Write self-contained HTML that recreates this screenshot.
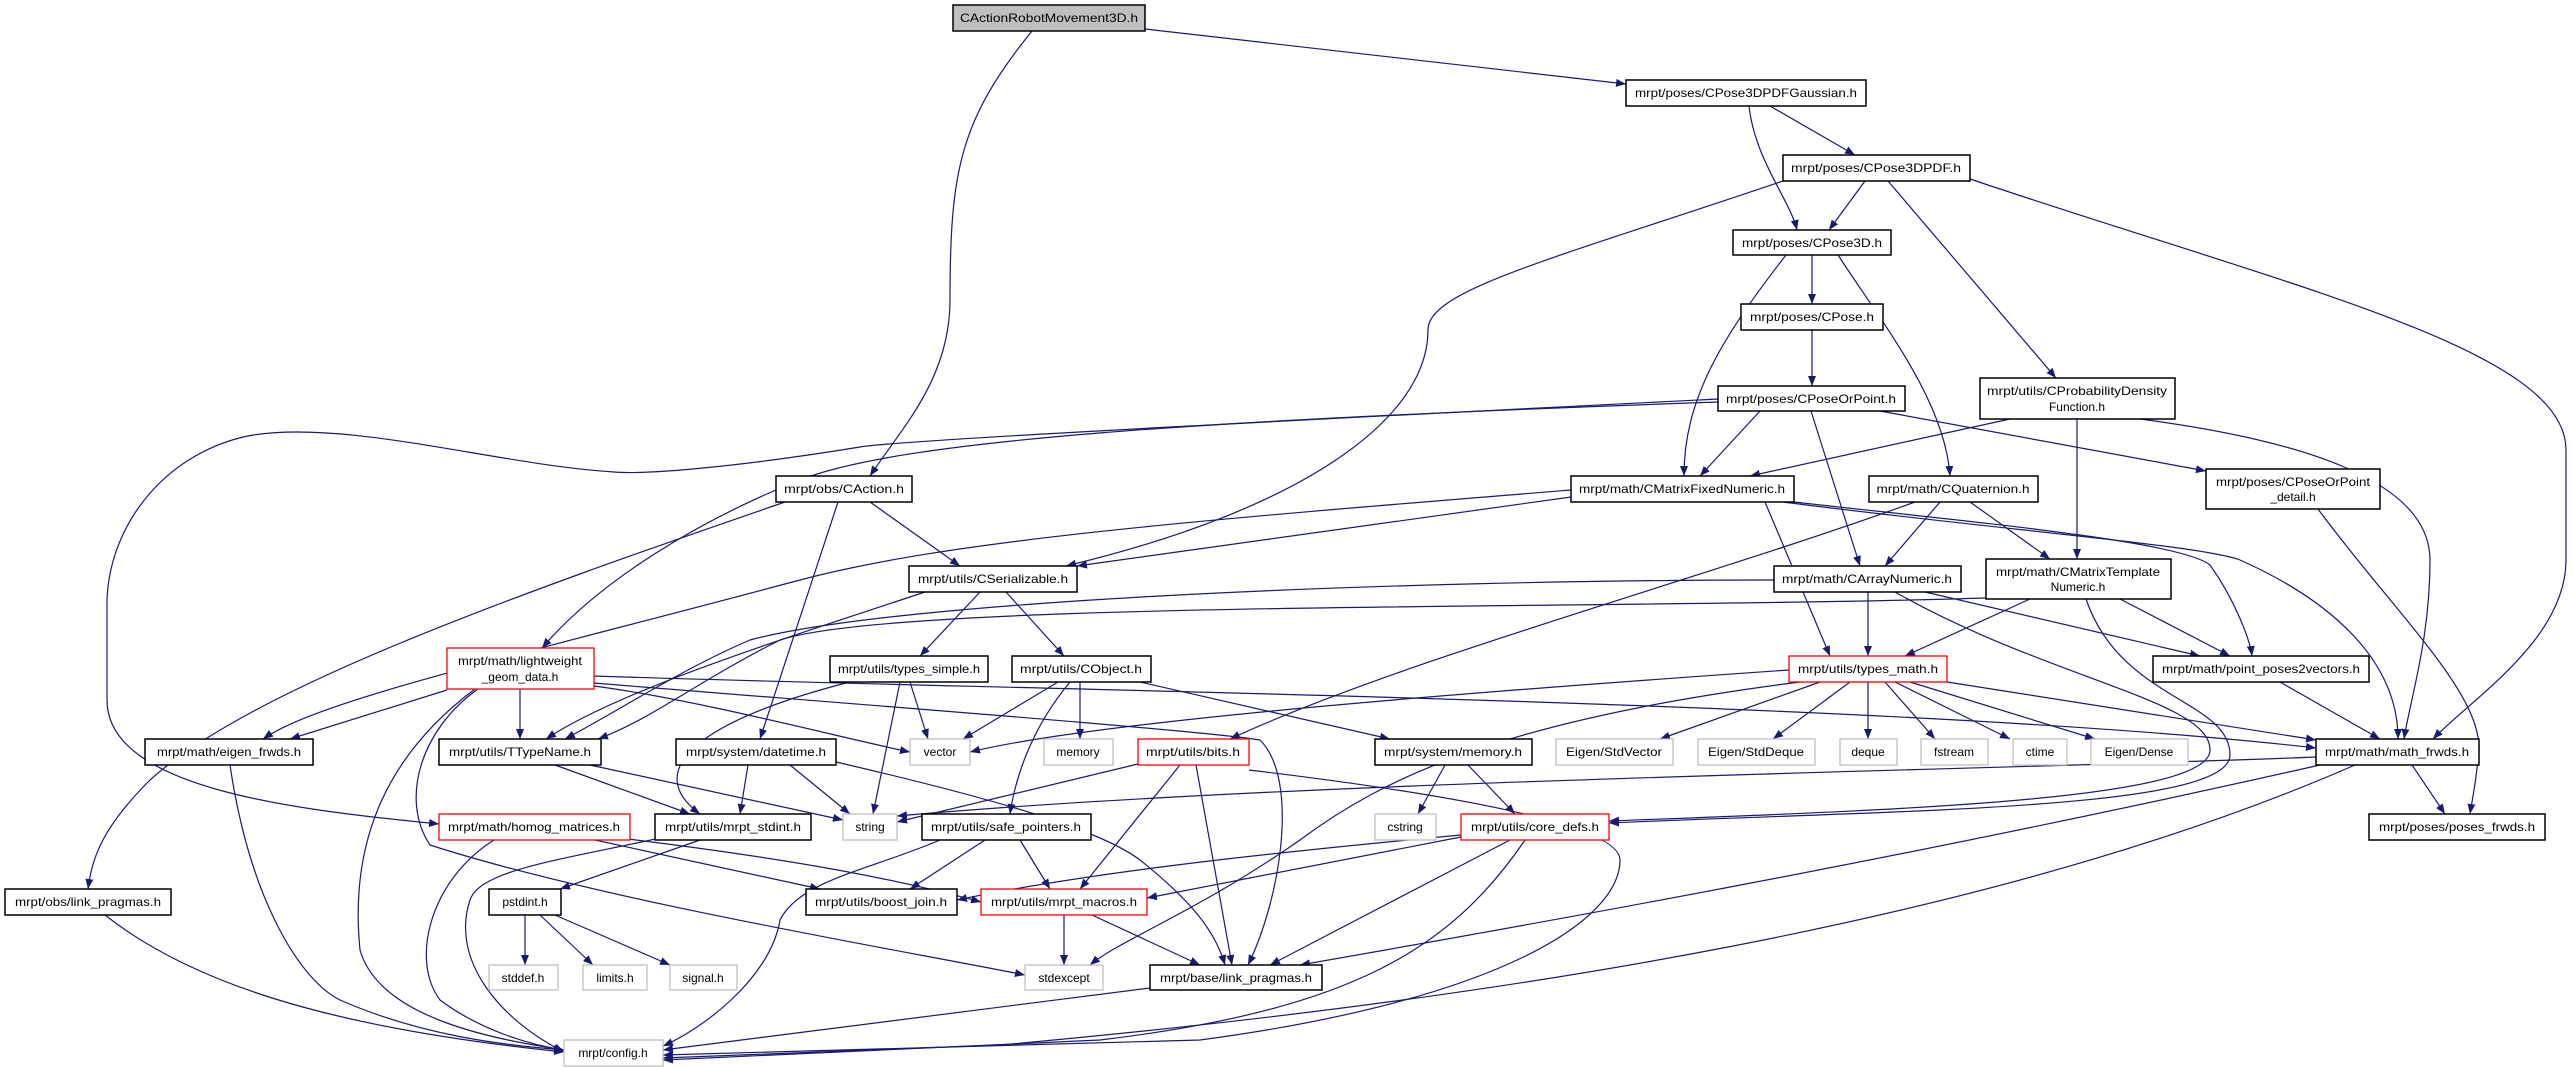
<!DOCTYPE html>
<html><head><meta charset="utf-8"><style>
html,body{margin:0;padding:0;background:#fff;}
svg{display:block;}
text{font-family:"Liberation Sans",sans-serif;font-size:12px;fill:#000;}
.e{fill:none;stroke:#191970;stroke-width:1.2;marker-end:url(#ah);}
.n{fill:#fff;stroke:#000;stroke-width:1.5;}
.g{fill:#fff;stroke:#bfbfbf;stroke-width:1.3;}
.r{fill:#fff;stroke:#ff0000;stroke-width:1.3;}
</style></head><body>
<svg width="2573" height="1067" viewBox="0 0 2573 1067" xmlns="http://www.w3.org/2000/svg">
<defs><marker id="ah" markerUnits="userSpaceOnUse" markerWidth="11" markerHeight="8" refX="10" refY="4" orient="auto"><path d="M0,0 L10,4 L0,8 z" fill="#191970"/></marker></defs>
<g>
<path class="e" d="M1145,29 L1626,84"/>
<path class="e" d="M1032,31 C960,120 950,170 950,300 C950,380 900,430 870,476"/>
<path class="e" d="M1770,106 L1855,155"/>
<path class="e" d="M1749,106 C1755,160 1790,200 1797,230"/>
<path class="e" d="M1865,181 L1829,230"/>
<path class="e" d="M1783,181 C1550,260 1428,290 1428,330 C1428,420 1300,510 1066,566"/>
<path class="e" d="M1888,181 L2056,378"/>
<path class="e" d="M1970,179 C2300,290 2566,350 2566,450 L2566,560 C2566,640 2470,700 2433,739"/>
<path class="e" d="M1812,255 L1812,304"/>
<path class="e" d="M1786,255 C1720,340 1684,400 1684,476"/>
<path class="e" d="M1838,255 C1880,320 1945,400 1950,476"/>
<path class="e" d="M1812,330 L1812,386"/>
<path class="e" d="M1718,399 C1300,420 900,440 860,447 C750,465 650,475 614,472 C500,465 350,420 253,435 C170,450 110,520 107,600 L107,700 C107,790 300,810 439,824"/>
<path class="e" d="M1718,402 C1200,420 900,440 800,480 C700,520 600,580 542,648"/>
<path class="e" d="M1760,411 L1700,476"/>
<path class="e" d="M1811,411 L1860,566"/>
<path class="e" d="M1880,411 L2206,471"/>
<path class="e" d="M2010,419 L1750,476"/>
<path class="e" d="M2077,419 L2077,559"/>
<path class="e" d="M2140,419 C2300,440 2430,480 2430,560 C2430,640 2410,700 2404,739"/>
<path class="e" d="M785,502 C500,600 250,690 150,780 C100,830 92,860 88,889"/>
<path class="e" d="M870,502 L960,566"/>
<path class="e" d="M838,502 L760,739"/>
<path class="e" d="M1571,497 L1077,566"/>
<path class="e" d="M1571,490 C1200,520 950,540 800,580 C500,660 320,700 263,739"/>
<path class="e" d="M1765,502 L1830,656"/>
<path class="e" d="M1783,502 C2000,530 2200,545 2240,560 C2330,600 2398,660 2398,739"/>
<path class="e" d="M1785,501 C1950,520 2180,540 2210,565 C2235,600 2250,640 2252,656"/>
<path class="e" d="M1940,502 L1885,566"/>
<path class="e" d="M1970,502 L2050,559"/>
<path class="e" d="M1915,502 C1700,580 1400,660 1230,739"/>
<path class="e" d="M925,592 C780,640 620,690 546,739"/>
<path class="e" d="M980,592 L920,656"/>
<path class="e" d="M1006,592 L1064,656"/>
<path class="e" d="M1868,592 L1868,656"/>
<path class="e" d="M1774,580 C1400,580 900,600 750,640 C680,670 620,710 565,739"/>
<path class="e" d="M1986,598 C1600,610 900,600 780,640 C700,680 650,720 598,739"/>
<path class="e" d="M1925,592 L2200,656"/>
<path class="e" d="M1895,592 C2050,680 2210,700 2210,750 C2210,800 1900,810 1609,821"/>
<path class="e" d="M2086,599 C2120,700 2230,700 2230,755 C2230,810 1900,810 1609,823"/>
<path class="e" d="M2030,599 L1905,656"/>
<path class="e" d="M2120,599 L2230,656"/>
<path class="e" d="M2318,509 C2400,620 2490,700 2478,760 C2475,790 2472,800 2470,814"/>
<path class="e" d="M447,690 L290,739"/>
<path class="e" d="M520,689 L520,739"/>
<path class="e" d="M594,686 C700,700 850,740 910,752"/>
<path class="e" d="M594,676 C1000,690 1900,700 2316,748"/>
<path class="e" d="M475,689 C380,760 350,850 360,950 C380,1020 500,1040 564,1050"/>
<path class="e" d="M478,689 C420,730 400,800 430,845 C600,900 900,950 1025,975"/>
<path class="e" d="M594,683 C800,700 1200,730 1260,740 C1300,780 1280,900 1248,965"/>
<path class="e" d="M910,682 L928,739"/>
<path class="e" d="M900,682 L873,814"/>
<path class="e" d="M850,682 C700,720 640,770 700,814"/>
<path class="e" d="M1058,682 L963,739"/>
<path class="e" d="M1080,682 L1080,739"/>
<path class="e" d="M1070,682 C1030,730 1015,780 1010,814"/>
<path class="e" d="M1140,682 L1390,739"/>
<path class="e" d="M1789,670 C1500,690 1100,720 970,752"/>
<path class="e" d="M1820,682 L1660,739"/>
<path class="e" d="M1850,682 L1773,739"/>
<path class="e" d="M1868,682 L1868,739"/>
<path class="e" d="M1885,682 L1935,739"/>
<path class="e" d="M1895,682 L2010,739"/>
<path class="e" d="M1910,682 L2095,739"/>
<path class="e" d="M1947,682 L2316,740"/>
<path class="e" d="M1800,682 C1500,720 1380,780 1300,840 C1200,910 1120,940 1090,965"/>
<path class="e" d="M2316,757 C2000,770 1300,780 897,816"/>
<path class="e" d="M2280,682 L2380,739"/>
<path class="e" d="M748,765 L740,814"/>
<path class="e" d="M790,765 L850,814"/>
<path class="e" d="M836,762 C1000,800 1100,830 1140,860 C1190,900 1215,930 1225,965"/>
<path class="e" d="M555,765 L690,814"/>
<path class="e" d="M590,765 L843,820"/>
<path class="e" d="M1138,764 L897,822"/>
<path class="e" d="M1180,765 L1080,889"/>
<path class="e" d="M1196,765 L1232,965"/>
<path class="e" d="M1249,770 C1500,800 1620,830 1620,860 C1620,920 1500,1000 1200,1040 L663,1055"/>
<path class="e" d="M1445,765 L1418,814"/>
<path class="e" d="M1468,765 L1515,814"/>
<path class="e" d="M2412,765 L2445,814"/>
<path class="e" d="M2320,765 C1900,860 1500,930 1300,965"/>
<path class="e" d="M2355,765 C2000,920 1500,1000 1000,1045 L663,1058"/>
<path class="e" d="M494,840 C430,880 410,960 440,1000 C480,1030 530,1045 564,1050"/>
<path class="e" d="M595,840 L820,889"/>
<path class="e" d="M620,838 C800,860 900,880 981,902"/>
<path class="e" d="M700,840 L560,889"/>
<path class="e" d="M660,838 C560,860 480,870 470,900 C450,960 500,1020 564,1052"/>
<path class="e" d="M985,840 L910,889"/>
<path class="e" d="M1020,840 L1050,889"/>
<path class="e" d="M940,840 C870,870 800,880 780,920 C770,980 700,1030 663,1046"/>
<path class="e" d="M1461,837 L1147,898"/>
<path class="e" d="M1461,835 C1300,850 1100,870 957,900"/>
<path class="e" d="M1510,840 L1270,965"/>
<path class="e" d="M1525,840 C1450,950 1350,1010 1100,1040 L663,1060"/>
<path class="e" d="M525,915 L525,965"/>
<path class="e" d="M540,915 L593,965"/>
<path class="e" d="M555,915 L670,965"/>
<path class="e" d="M1064,915 L1064,965"/>
<path class="e" d="M1092,915 L1200,965"/>
<path class="e" d="M1150,988 L663,1050"/>
<path class="e" d="M105,915 C200,990 350,1030 564,1052"/>
<path class="e" d="M230,765 C250,900 300,980 340,1000 C420,1035 500,1045 564,1050"/>
</g>
<g>
<rect x="953" y="5" width="192" height="26" fill="#bfbfbf" stroke="#000" stroke-width="1.5"/><text x="1049" y="22" text-anchor="middle" textLength="178" lengthAdjust="spacingAndGlyphs">CActionRobotMovement3D.h</text>
<rect class="n" x="1626" y="80" width="240" height="26"/><text x="1746" y="97" text-anchor="middle" textLength="222" lengthAdjust="spacingAndGlyphs">mrpt/poses/CPose3DPDFGaussian.h</text>
<rect class="n" x="1783" y="155" width="187" height="26"/><text x="1876" y="172" text-anchor="middle" textLength="170" lengthAdjust="spacingAndGlyphs">mrpt/poses/CPose3DPDF.h</text>
<rect class="n" x="1733" y="230" width="158" height="25"/><text x="1812" y="247" text-anchor="middle" textLength="140" lengthAdjust="spacingAndGlyphs">mrpt/poses/CPose3D.h</text>
<rect class="n" x="1741" y="304" width="142" height="26"/><text x="1812" y="321" text-anchor="middle" textLength="124" lengthAdjust="spacingAndGlyphs">mrpt/poses/CPose.h</text>
<rect class="n" x="1718" y="386" width="187" height="25"/><text x="1811" y="403" text-anchor="middle" textLength="170" lengthAdjust="spacingAndGlyphs">mrpt/poses/CPoseOrPoint.h</text>
<rect class="n" x="1980" y="378" width="195" height="41"/><text x="2077" y="395" text-anchor="middle" textLength="180" lengthAdjust="spacingAndGlyphs">mrpt/utils/CProbabilityDensity</text><text x="2077" y="411" text-anchor="middle">Function.h</text>
<rect class="n" x="776" y="476" width="136" height="26"/><text x="844" y="493" text-anchor="middle" textLength="120" lengthAdjust="spacingAndGlyphs">mrpt/obs/CAction.h</text>
<rect class="n" x="1571" y="476" width="223" height="26"/><text x="1682" y="493" text-anchor="middle" textLength="206" lengthAdjust="spacingAndGlyphs">mrpt/math/CMatrixFixedNumeric.h</text>
<rect class="n" x="1869" y="476" width="169" height="26"/><text x="1953" y="493" text-anchor="middle" textLength="153" lengthAdjust="spacingAndGlyphs">mrpt/math/CQuaternion.h</text>
<rect class="n" x="2206" y="469" width="174" height="40"/><text x="2293" y="486" text-anchor="middle" textLength="154" lengthAdjust="spacingAndGlyphs">mrpt/poses/CPoseOrPoint</text><text x="2293" y="501" text-anchor="middle">_detail.h</text>
<rect class="n" x="909" y="566" width="168" height="26"/><text x="993" y="583" text-anchor="middle" textLength="150" lengthAdjust="spacingAndGlyphs">mrpt/utils/CSerializable.h</text>
<rect class="n" x="1774" y="566" width="187" height="26"/><text x="1867" y="583" text-anchor="middle" textLength="170" lengthAdjust="spacingAndGlyphs">mrpt/math/CArrayNumeric.h</text>
<rect class="n" x="1986" y="559" width="185" height="40"/><text x="2078" y="576" text-anchor="middle" textLength="164" lengthAdjust="spacingAndGlyphs">mrpt/math/CMatrixTemplate</text><text x="2078" y="591" text-anchor="middle">Numeric.h</text>
<rect class="r" x="447" y="648" width="147" height="41"/><text x="520" y="665" text-anchor="middle" textLength="124" lengthAdjust="spacingAndGlyphs">mrpt/math/lightweight</text><text x="520" y="681" text-anchor="middle">_geom_data.h</text>
<rect class="n" x="830" y="656" width="158" height="26"/><text x="909" y="673" text-anchor="middle" textLength="142" lengthAdjust="spacingAndGlyphs">mrpt/utils/types_simple.h</text>
<rect class="n" x="1012" y="656" width="139" height="26"/><text x="1081" y="673" text-anchor="middle" textLength="122" lengthAdjust="spacingAndGlyphs">mrpt/utils/CObject.h</text>
<rect class="r" x="1789" y="656" width="158" height="26"/><text x="1868" y="673" text-anchor="middle" textLength="140" lengthAdjust="spacingAndGlyphs">mrpt/utils/types_math.h</text>
<rect class="n" x="2153" y="656" width="216" height="26"/><text x="2261" y="673" text-anchor="middle" textLength="198" lengthAdjust="spacingAndGlyphs">mrpt/math/point_poses2vectors.h</text>
<rect class="n" x="145" y="739" width="168" height="26"/><text x="229" y="756" text-anchor="middle" textLength="144" lengthAdjust="spacingAndGlyphs">mrpt/math/eigen_frwds.h</text>
<rect class="n" x="439" y="739" width="162" height="26"/><text x="520" y="756" text-anchor="middle" textLength="142" lengthAdjust="spacingAndGlyphs">mrpt/utils/TTypeName.h</text>
<rect class="n" x="676" y="739" width="160" height="26"/><text x="756" y="756" text-anchor="middle" textLength="140" lengthAdjust="spacingAndGlyphs">mrpt/system/datetime.h</text>
<rect class="g" x="910" y="739" width="60" height="26"/><text x="940" y="756" text-anchor="middle">vector</text>
<rect class="g" x="1044" y="739" width="69" height="26"/><text x="1078" y="756" text-anchor="middle">memory</text>
<rect class="r" x="1138" y="739" width="111" height="26"/><text x="1193" y="756" text-anchor="middle" textLength="94" lengthAdjust="spacingAndGlyphs">mrpt/utils/bits.h</text>
<rect class="n" x="1375" y="739" width="157" height="26"/><text x="1453" y="756" text-anchor="middle" textLength="138" lengthAdjust="spacingAndGlyphs">mrpt/system/memory.h</text>
<rect class="g" x="1556" y="739" width="117" height="26"/><text x="1614" y="756" text-anchor="middle" textLength="96" lengthAdjust="spacingAndGlyphs">Eigen/StdVector</text>
<rect class="g" x="1698" y="739" width="117" height="26"/><text x="1756" y="756" text-anchor="middle" textLength="96" lengthAdjust="spacingAndGlyphs">Eigen/StdDeque</text>
<rect class="g" x="1840" y="739" width="57" height="26"/><text x="1868" y="756" text-anchor="middle">deque</text>
<rect class="g" x="1921" y="739" width="67" height="26"/><text x="1954" y="756" text-anchor="middle">fstream</text>
<rect class="g" x="2013" y="739" width="54" height="26"/><text x="2040" y="756" text-anchor="middle">ctime</text>
<rect class="g" x="2091" y="739" width="97" height="26"/><text x="2139" y="756" text-anchor="middle">Eigen/Dense</text>
<rect class="n" x="2316" y="739" width="163" height="26"/><text x="2397" y="756" text-anchor="middle" textLength="144" lengthAdjust="spacingAndGlyphs">mrpt/math/math_frwds.h</text>
<rect class="r" x="439" y="814" width="191" height="26"/><text x="534" y="831" text-anchor="middle" textLength="172" lengthAdjust="spacingAndGlyphs">mrpt/math/homog_matrices.h</text>
<rect class="n" x="655" y="814" width="156" height="26"/><text x="733" y="831" text-anchor="middle" textLength="136" lengthAdjust="spacingAndGlyphs">mrpt/utils/mrpt_stdint.h</text>
<rect class="g" x="843" y="814" width="54" height="26"/><text x="870" y="831" text-anchor="middle">string</text>
<rect class="n" x="922" y="814" width="169" height="26"/><text x="1006" y="831" text-anchor="middle" textLength="150" lengthAdjust="spacingAndGlyphs">mrpt/utils/safe_pointers.h</text>
<rect class="g" x="1375" y="814" width="61" height="26"/><text x="1405" y="831" text-anchor="middle">cstring</text>
<rect class="r" x="1461" y="814" width="148" height="26"/><text x="1535" y="831" text-anchor="middle" textLength="128" lengthAdjust="spacingAndGlyphs">mrpt/utils/core_defs.h</text>
<rect class="n" x="2369" y="814" width="176" height="26"/><text x="2457" y="831" text-anchor="middle" textLength="156" lengthAdjust="spacingAndGlyphs">mrpt/poses/poses_frwds.h</text>
<rect class="n" x="5" y="889" width="166" height="26"/><text x="88" y="906" text-anchor="middle" textLength="146" lengthAdjust="spacingAndGlyphs">mrpt/obs/link_pragmas.h</text>
<rect class="n" x="489" y="889" width="72" height="26"/><text x="525" y="906" text-anchor="middle">pstdint.h</text>
<rect class="n" x="806" y="889" width="151" height="26"/><text x="881" y="906" text-anchor="middle" textLength="132" lengthAdjust="spacingAndGlyphs">mrpt/utils/boost_join.h</text>
<rect class="r" x="981" y="889" width="166" height="26"/><text x="1064" y="906" text-anchor="middle" textLength="146" lengthAdjust="spacingAndGlyphs">mrpt/utils/mrpt_macros.h</text>
<rect class="g" x="489" y="965" width="69" height="25"/><text x="523" y="982" text-anchor="middle">stddef.h</text>
<rect class="g" x="583" y="965" width="64" height="25"/><text x="615" y="982" text-anchor="middle">limits.h</text>
<rect class="g" x="670" y="965" width="67" height="25"/><text x="703" y="982" text-anchor="middle">signal.h</text>
<rect class="g" x="1025" y="965" width="78" height="25"/><text x="1064" y="982" text-anchor="middle">stdexcept</text>
<rect class="n" x="1150" y="965" width="172" height="25"/><text x="1236" y="982" text-anchor="middle" textLength="152" lengthAdjust="spacingAndGlyphs">mrpt/base/link_pragmas.h</text>
<rect class="g" x="564" y="1040" width="99" height="26"/><text x="613" y="1057" text-anchor="middle">mrpt/config.h</text>
</g>
</svg>
</body></html>
